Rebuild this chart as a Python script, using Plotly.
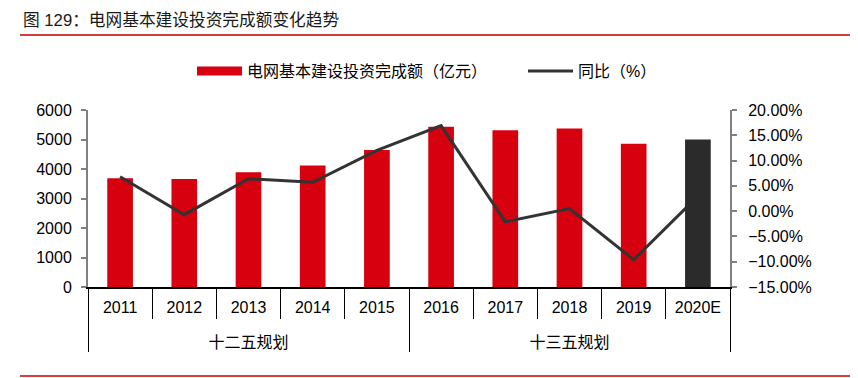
import plotly.graph_objects as go

years = ["2011", "2012", "2013", "2014", "2015", "2016", "2017", "2018", "2019", "2020E"]
plans = ["十二五规划"] * 5 + ["十三五规划"] * 5
invest = [3687, 3661, 3894, 4118, 4640, 5431, 5315, 5373, 4856, 5000]
growth = [6.8, -0.7, 6.4, 5.7, 12.0, 16.9, -2.1, 0.5, -9.6, 2.97]

# outer labels sit one line lower, as in the source
plan_labels = ["<br>" + p for p in plans]

fc_years = years[:9]
fc_plans = plan_labels[:9]
fc_invest = invest[:9]
est_years = years[9:]
est_plans = plan_labels[9:]
est_invest = invest[9:]

RED = "#D7000F"
DARK = "#2B2B2B"
LINE = "#333333"
FONT = "Liberation Sans, Arial, Noto Sans CJK SC, sans-serif"

fig = go.Figure()
fig.add_trace(go.Bar(
    x=[fc_plans, fc_years], y=fc_invest, marker=dict(color=RED, line=dict(width=0)),
    name="电网基本建设投资完成额（亿元）", showlegend=False, yaxis="y"))
fig.add_trace(go.Scatter(
    x=[plan_labels, years], y=growth, mode="lines", line=dict(color=LINE, width=3),
    name="同比（%）", showlegend=False, yaxis="y2"))
fig.add_trace(go.Bar(
    x=[est_plans, est_years], y=est_invest, marker=dict(color=DARK, line=dict(width=0)),
    showlegend=False, yaxis="y3"))
# legend entries
fig.add_trace(go.Scatter(x=[None], y=[None], mode="lines", line=dict(color=RED, width=9),
                         name="电网基本建设投资完成额（亿元）", yaxis="y", legend="legend"))
fig.add_trace(go.Scatter(x=[None], y=[None], mode="lines", line=dict(color=LINE, width=3),
                         name="同比（%）", yaxis="y", legend="legend2"))

# the page body has an 8px margin, so the figure is drawn 8px smaller
W, H = 850, 370
L, R, T, B = 80, 128, 102, 91
pw, ph = W - L - R, H - T - B

def px(xp):
    return (xp - L) / pw

def py(yp):
    return (H - B - yp) / ph

leg_common = dict(orientation="h", xanchor="left", yanchor="middle", itemwidth=45,
                  font=dict(size=16), bgcolor="rgba(0,0,0,0)",
                  itemclick=False, itemdoubleclick=False)

fig.update_layout(
    width=W, height=H,
    margin=dict(l=L, r=R, t=T, b=B, autoexpand=False),
    paper_bgcolor="white", plot_bgcolor="white",
    font=dict(family=FONT, size=16, color="#000000"),
    bargap=0.6,
    title=dict(text="图 129：电网基本建设投资完成额变化趋势", xref="container", yref="container",
               x=15 / W, xanchor="left", y=1 - 12 / H, yanchor="middle",
               font=dict(family=FONT, size=16.7, color="#1a1a1a")),
    legend=dict(x=px(184), y=py(63), **leg_common),
    legend2=dict(x=px(515), y=py(63), **leg_common),
    xaxis=dict(type="multicategory", showline=True, linecolor="#000000", linewidth=1.5,
               ticks="outside", tickson="boundaries", ticklen=30, tickcolor="#000000", tickwidth=1,
               showdividers=True, dividercolor="#000000", dividerwidth=1,
               ticklabelstandoff=5,
               showgrid=False, zeroline=False, automargin=False,
               tickfont=dict(size=16, color="#000000")),
    yaxis=dict(range=[0, 6000], dtick=1000, showgrid=False, zeroline=False, automargin=False,
               showline=True, linecolor="#808080", linewidth=2,
               ticks="outside", ticklen=5, tickcolor="#808080", tickwidth=1.5,
               ticklabelstandoff=6, tickfont=dict(size=16, color="#000000")),
    yaxis2=dict(range=[-15, 20], dtick=5, overlaying="y", side="right", automargin=False,
                showgrid=False, zeroline=False, tickformat=".2f", ticksuffix="%",
                showline=True, linecolor="#808080", linewidth=2,
                ticks="outside", ticklen=5, tickcolor="#808080", tickwidth=1.5,
                ticklabelstandoff=8, tickfont=dict(size=16, color="#000000")),
    yaxis3=dict(range=[0, 6000], overlaying="y", visible=False),
    shapes=[
        dict(type="line", xref="paper", yref="paper", x0=px(12), x1=px(850), y0=py(27), y1=py(27),
             line=dict(color="#C00000", width=1.5)),
        dict(type="line", xref="paper", yref="paper", x0=px(12), x1=px(850), y0=py(368), y1=py(368),
             line=dict(color="#C00000", width=1.5)),
    ],
)

fig.write_html("out.html")
